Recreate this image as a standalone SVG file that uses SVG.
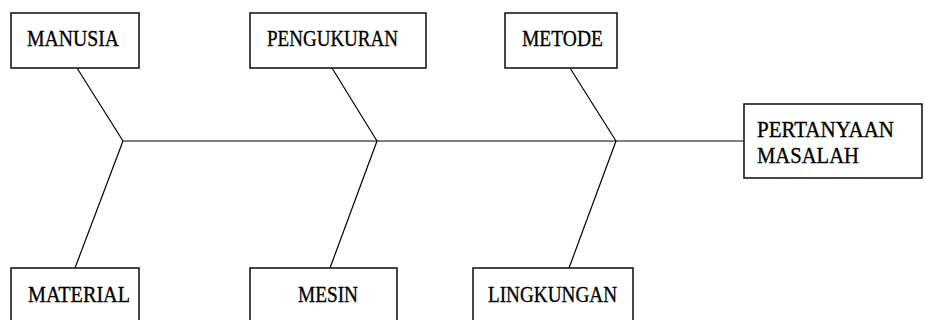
<svg xmlns="http://www.w3.org/2000/svg" width="926" height="320" viewBox="0 0 926 320">
<style>
.box{fill:#fff;stroke:#1a1a1a;stroke-width:1.6}
.t{font-family:"Liberation Serif","Times New Roman",serif;font-size:24px;fill:#000;stroke:#000;stroke-width:0.35}
.ln{stroke:#000;stroke-width:1.2;fill:none}
</style>
<rect width="926" height="320" fill="#fff"/>
<g id="connectors">
<line class="ln" x1="123" y1="141" x2="744" y2="141"/>
<line class="ln" x1="77" y1="68" x2="123" y2="141"/>
<line class="ln" x1="332" y1="68" x2="377" y2="141"/>
<line class="ln" x1="570" y1="68" x2="616" y2="141"/>
<line class="ln" x1="123" y1="141" x2="75" y2="268"/>
<line class="ln" x1="377" y1="141" x2="330" y2="268"/>
<line class="ln" x1="616" y1="141" x2="569" y2="268"/>
</g>
<g id="manusia"><rect class="box" x="11" y="13" width="128" height="55"/><text class="t" x="27" y="46" textLength="92" lengthAdjust="spacingAndGlyphs">MANUSIA</text></g>
<g id="pengukuran"><rect class="box" x="250" y="13" width="176" height="55"/><text class="t" x="267" y="46" textLength="131" lengthAdjust="spacingAndGlyphs">PENGUKURAN</text></g>
<g id="metode"><rect class="box" x="505" y="13" width="112" height="55"/><text class="t" x="522" y="46" textLength="81" lengthAdjust="spacingAndGlyphs">METODE</text></g>
<g id="pertanyaan"><rect class="box" x="744" y="104" width="178" height="74"/><text class="t" x="757" y="137" textLength="137" lengthAdjust="spacingAndGlyphs">PERTANYAAN</text><text class="t" x="757" y="163" textLength="102" lengthAdjust="spacingAndGlyphs">MASALAH</text></g>
<g id="material"><rect class="box" x="11" y="268" width="128" height="62"/><text class="t" x="28" y="302" textLength="102" lengthAdjust="spacingAndGlyphs">MATERIAL</text></g>
<g id="mesin"><rect class="box" x="250" y="268" width="147" height="62"/><text class="t" x="298" y="302" textLength="60" lengthAdjust="spacingAndGlyphs">MESIN</text></g>
<g id="lingkungan"><rect class="box" x="473" y="268" width="160" height="62"/><text class="t" x="488" y="302" textLength="129" lengthAdjust="spacingAndGlyphs">LINGKUNGAN</text></g>
</svg>
